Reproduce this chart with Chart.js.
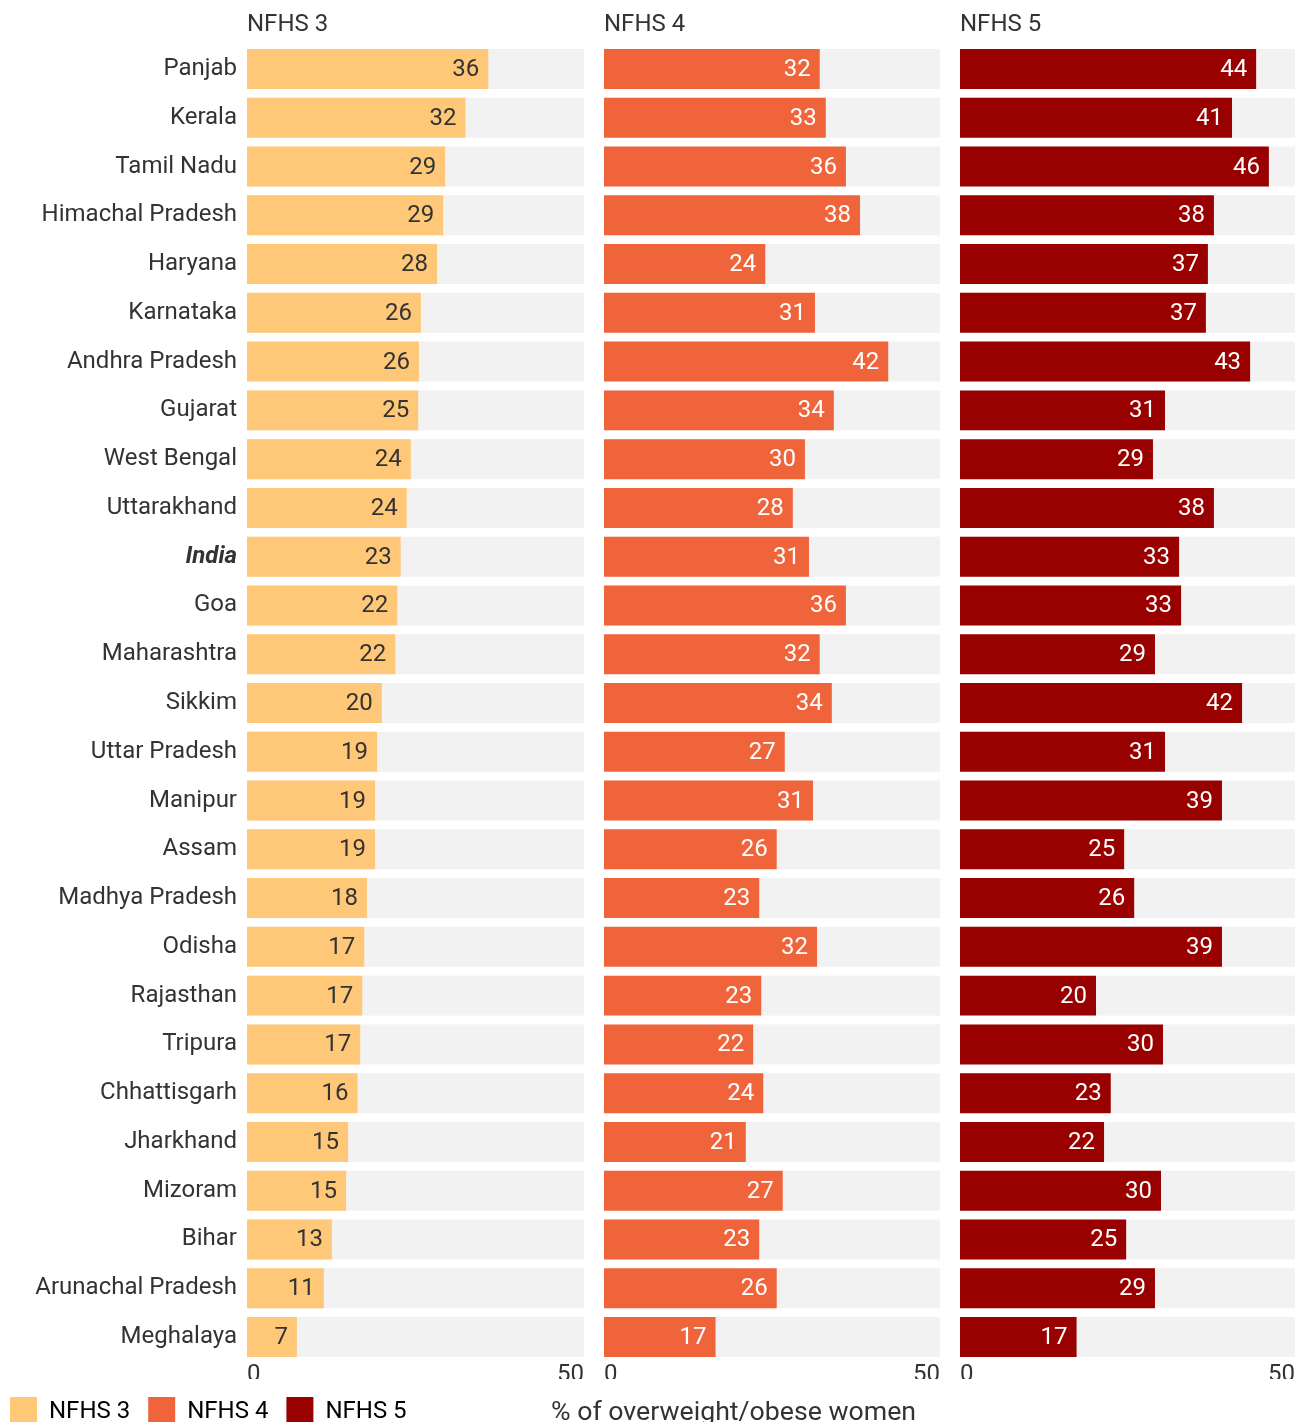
<!DOCTYPE html>
<html>
<head>
<meta charset="utf-8">
<script src="https://cdn.jsdelivr.net/npm/chart.js@4.4.1/dist/chart.umd.min.js"></script>
<style>
html, body { margin: 0; padding: 0; background: #ffffff; }
#wrap { position: relative; width: 1296px; height: 1422px; overflow: hidden; font-family: Roboto, "Noto Sans", sans-serif; }
.box { position: absolute; top: 0; height: 1436px; }
#axisTitle { position: absolute; left: 551px; top: 1395px; font-size: 26.7px; line-height: 32px; color: #333333; white-space: nowrap; font-family: Roboto, sans-serif; }
</style>
</head>
<body>
<div id="wrap">
  <div class="box" style="left:0px;width:592px;"><canvas id="c1"></canvas></div>
  <div class="box" style="left:597px;width:350px;"><canvas id="c2"></canvas></div>
  <div class="box" style="left:953px;width:349px;"><canvas id="c3"></canvas></div>
  <div id="axisTitle">% of overweight/obese women</div>
</div>
<script>
// ---- data ----
const categories = ["Panjab","Kerala","Tamil Nadu","Himachal Pradesh","Haryana","Karnataka","Andhra Pradesh","Gujarat","West Bengal","Uttarakhand","India","Goa","Maharashtra","Sikkim","Uttar Pradesh","Manipur","Assam","Madhya Pradesh","Odisha","Rajasthan","Tripura","Chhattisgarh","Jharkhand","Mizoram","Bihar","Arunachal Pradesh","Meghalaya"];
const nfhs3 = [35.8,32.4,29.4,29.1,28.2,25.8,25.5,25.4,24.3,23.7,22.8,22.3,22.0,20.0,19.3,19.0,19.0,17.8,17.4,17.1,16.8,16.4,15.0,14.7,12.6,11.4,7.4];
const nfhs4 = [32.1,33.0,36.0,38.1,24.0,31.4,42.3,34.2,29.9,28.1,30.5,36.0,32.1,33.9,26.9,31.1,25.7,23.1,31.7,23.4,22.2,23.7,21.1,26.6,23.1,25.7,16.6];
const nfhs5 = [44.2,40.6,46.1,37.9,37.0,36.7,43.3,30.6,28.8,37.9,32.7,33.0,29.1,42.1,30.6,39.1,24.5,26.0,39.1,20.3,30.3,22.5,21.5,30.0,24.8,29.1,17.4];
const seriesNames = ["NFHS 3","NFHS 4","NFHS 5"];
const xTicks = [0, 50];
const axisMin = 0, axisMax = 50;

// ---- styles ----
const colors = ["#fec878", "#ef643b", "#990000"];
const labelColors = ["#333333", "#ffffff", "#ffffff"];
const trackColor = "#f2f2f2";
const textColor = "#333333";
const FONT = "Roboto";

Chart.defaults.font.family = FONT;
Chart.defaults.color = textColor;

const trackPlugin = {
  id: 'track',
  beforeDatasetsDraw(chart) {
    const meta = chart.getDatasetMeta(0);
    const xs = chart.scales.x;
    const ctx = chart.ctx;
    const x0 = xs.getPixelForValue(axisMin), x1 = xs.getPixelForValue(axisMax);
    ctx.save();
    ctx.fillStyle = trackColor;
    meta.data.forEach(el => {
      ctx.fillRect(x0, el.y - el.height / 2, x1 - x0, el.height);
    });
    ctx.restore();
  }
};

const valuePlugin = {
  id: 'values',
  afterDatasetsDraw(chart, args, opts) {
    const meta = chart.getDatasetMeta(0);
    const data = chart.data.datasets[0].data;
    const ctx = chart.ctx;
    ctx.save();
    ctx.font = "24px " + FONT;
    ctx.fillStyle = opts.color;
    ctx.textAlign = 'right';
    ctx.textBaseline = 'middle';
    meta.data.forEach((el, i) => {
      ctx.fillText(String(Math.round(data[i])), el.x - 9, el.y + 1);
    });
    ctx.restore();
  }
};

function makeChart(id, idx, data, first) {
  return new Chart(document.getElementById(id), {
    type: 'bar',
    data: {
      labels: categories,
      datasets: [{
        label: seriesNames[idx],
        data: data,
        backgroundColor: colors[idx],
        borderWidth: 0,
        barPercentage: 1.0,
        categoryPercentage: 0.82
      }]
    },
    options: {
      indexAxis: 'y',
      responsive: true,
      maintainAspectRatio: false,
      animation: false,
      layout: { padding: first ? { left: -8, right: 8, top: 0, bottom: 0 } : { left: 7, right: 7, top: 0, bottom: 57 } },
      scales: {
        x: {
          min: axisMin, max: axisMax,
          grid: { display: false, drawTicks: false },
          border: { display: false },
          afterBuildTicks: s => { s.ticks = xTicks.map(v => ({ value: v })); },
          afterFit: s => { s.height = 17.6; },
          ticks: { align: 'inner', padding: 6, color: textColor, font: { size: 24, family: FONT, lineHeight: 0.667 }, maxRotation: 0 }
        },
        y: {
          display: first,
          grid: { display: false, drawTicks: false },
          border: { display: false },
          afterFit: s => { if (first) s.width = 255; },
          ticks: {
            padding: 10,
            color: textColor,
            autoSkip: false,
            font: ctx => categories[ctx.index] === 'India'
              ? { size: 24, family: FONT, weight: 'bold', style: 'italic' }
              : { size: 24, family: FONT }
          }
        }
      },
      plugins: {
        title: {
          display: true,
          text: seriesNames[idx],
          align: 'start',
          fullSize: false,
          position: 'top',
          color: textColor,
          font: { size: 24, family: FONT, weight: 'normal' },
          padding: { top: 10.5, bottom: 5.3 }
        },
        legend: first ? {
          display: true,
          position: 'bottom',
          align: 'start',
          labels: {
            boxWidth: 27, boxHeight: 29, padding: 18,
            color: textColor,
            font: { size: 24, family: FONT },
            generateLabels: () => seriesNames.map((n, i) => ({ text: n, fillStyle: colors[i], strokeStyle: colors[i], lineWidth: 0, hidden: false, datasetIndex: 0 }))
          }
        } : { display: false },
        tooltip: { enabled: false },
        values: { color: labelColors[idx] }
      }
    },
    plugins: [trackPlugin, valuePlugin]
  });
}

makeChart('c1', 0, nfhs3, true);
makeChart('c2', 1, nfhs4, false);
makeChart('c3', 2, nfhs5, false);
</script>
</body>
</html>
